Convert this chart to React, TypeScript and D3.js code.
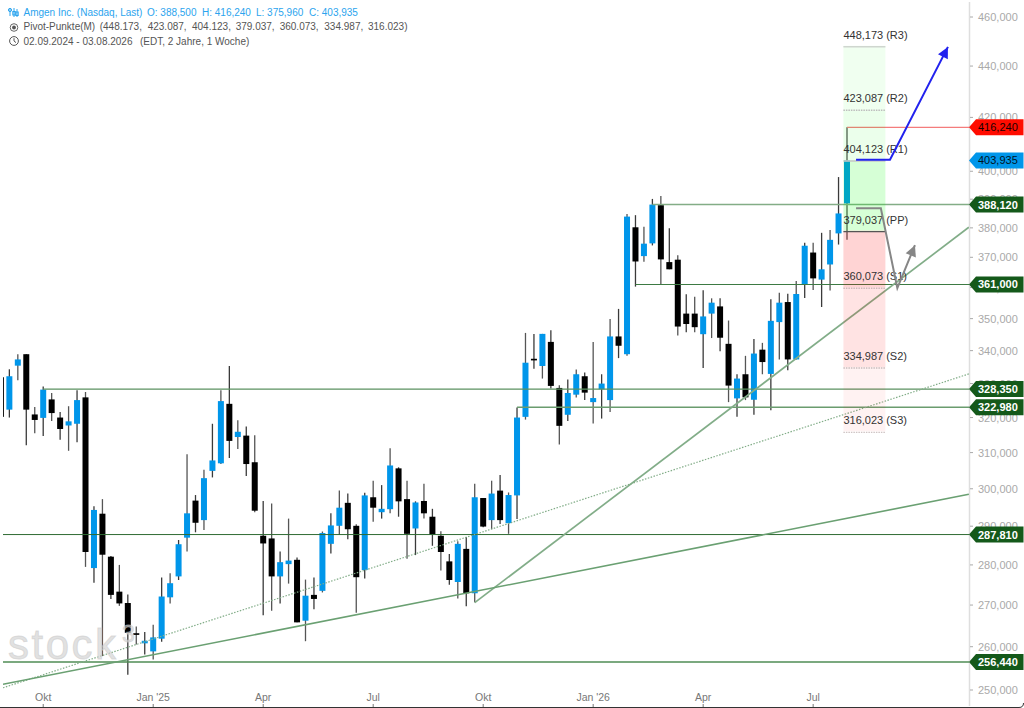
import * as d3 from "d3";

// weekly candles, week 0 = 02.09.2024, week 100 = 03.08.2026
const OPENS = [
  331.9, 322.3, 335.4, 338.9, 320.9, 319.9, 325.3, 320.0, 317.7, 318.2,
  325.9, 279.2, 293.3, 282.1, 273.3, 270.5, 263.2, 260.8, 258.9, 261.9,
  271.9, 277.1, 287.0, 296.8, 291.6, 304.9, 307.0, 324.0, 314.4, 314.8,
  307.3, 287.5, 286.8, 277.1, 280.2, 281.3, 266.2, 272.5, 273.5, 285.4,
  290.1, 296.2, 290.1, 278.7, 297.7, 293.7, 294.5, 305.6, 297.2, 289.4,
  296.7, 292.5, 287.5, 280.9, 275.7, 284.1, 272.9, 297.5, 291.6, 299.5,
  290.8, 298.2, 320.2, 337.5, 335.3, 342.7, 328.7, 320.8, 326.7, 332.2,
  324.5, 328.3, 325.1, 344.4, 338.9, 380.2, 370.4, 374.7, 387.9, 368.4,
  369.2, 351.6, 351.6, 345.1, 351.6, 353.9, 342.1, 325.6, 332.8, 325.2,
  340.3, 332.9, 348.9, 355.3, 337.3, 361.0, 371.6, 362.6, 367.6, 378.1,
  388.5,
];
const HIGHS = [
  331.9, 334.3, 338.9, 338.9, 323.1, 329.1, 327.2, 321.6, 323.3, 328.0,
  327.5, 295.3, 297.2, 282.3, 280.0, 272.6, 264.8, 263.5, 265.2, 276.8,
  277.9, 286.4, 309.5, 298.3, 305.2, 318.2, 328.0, 335.3, 319.2, 317.4,
  314.9, 296.7, 296.0, 283.4, 292.0, 281.9, 276.3, 276.8, 288.6, 293.4,
  299.5, 298.7, 290.5, 298.9, 302.2, 301.0, 311.2, 305.9, 302.2, 296.6,
  301.4, 294.6, 288.7, 282.8, 286.1, 287.2, 301.4, 297.5, 302.2, 303.8,
  299.0, 322.9, 345.5, 345.2, 345.2, 346.3, 329.5, 331.2, 334.2, 333.3,
  342.7, 332.8, 349.9, 353.1, 384.8, 384.4, 380.4, 390.1, 391.1, 379.9,
  370.7, 357.8, 357.0, 359.1, 356.5, 356.5, 349.4, 332.8, 338.4, 343.6,
  342.4, 356.2, 358.3, 358.0, 362.1, 374.9, 374.9, 378.3, 379.3, 397.9,
  416.24,
];
const LOWS = [
  320.2, 320.0, 331.0, 312.1, 315.5, 314.7, 319.0, 313.6, 310.5, 312.9,
  279.5, 275.5, 257.8, 271.5, 269.8, 253.5, 260.5, 258.2, 257.0, 261.2,
  270.4, 276.2, 283.4, 288.4, 289.0, 303.1, 306.8, 308.5, 311.0, 303.5,
  293.7, 267.5, 268.6, 270.4, 275.3, 265.8, 261.3, 269.0, 273.1, 282.9,
  287.7, 286.6, 268.1, 276.6, 291.2, 292.0, 293.4, 292.5, 281.6, 282.5,
  292.0, 284.9, 278.6, 275.0, 271.6, 269.7, 270.7, 289.7, 289.2, 290.6,
  288.0, 291.9, 319.4, 334.5, 331.5, 328.5, 312.3, 319.0, 325.9, 325.1,
  318.3, 319.7, 321.6, 337.7, 338.4, 360.3, 368.5, 374.0, 361.0, 366.0,
  344.7, 345.7, 345.7, 334.7, 343.9, 339.8, 324.5, 320.2, 325.1, 320.8,
  332.8, 322.1, 337.3, 334.0, 337.3, 356.6, 359.2, 353.7, 359.0, 374.3,
  375.96,
];
const CLOSES = [
  320.2, 332.2, 337.3, 322.3, 319.3, 328.2, 321.3, 316.7, 318.9, 325.1,
  283.3, 294.3, 282.6, 272.5, 270.4, 263.3, 262.8, 261.4, 262.2, 272.1,
  275.4, 285.3, 293.4, 290.9, 302.9, 307.8, 324.8, 313.3, 315.9, 306.8,
  294.1, 285.5, 277.1, 280.7, 281.1, 265.8, 272.3, 271.5, 288.2, 290.2,
  294.9, 289.2, 276.9, 298.2, 294.9, 294.6, 306.4, 296.6, 288.0, 296.3,
  293.4, 287.7, 283.3, 276.2, 285.4, 272.9, 297.7, 289.9, 298.7, 291.6,
  298.3, 320.0, 336.3, 337.0, 345.2, 329.3, 317.6, 327.2, 332.8, 327.3,
  325.7, 330.0, 344.4, 341.5, 383.9, 368.6, 374.6, 388.1, 369.3, 366.0,
  347.5, 348.3, 347.3, 350.7, 355.1, 344.0, 329.4, 331.5, 325.9, 339.1,
  336.5, 349.3, 355.1, 337.3, 357.9, 373.9, 363.0, 366.0, 375.9, 385.0,
  403.935,
];

const PRICE_TICKS = [
  250, 260, 270, 280, 290, 300, 310, 320, 330, 340, 350, 360, 370, 380, 390, 400, 420, 440, 460,
];
const TIME_TICK_WEEKS = [5, 18, 31, 44, 57, 70, 83, 96];
const TIME_TICK_LABELS = ["Okt", "Jan '25", "Apr", "Jul", "Okt", "Jan '26", "Apr", "Jul"];

const PIVOT_VALUES = [448.173, 423.087, 404.123, 379.037, 360.073, 334.987, 316.023];
const PIVOT_NAMES = ["R3", "R2", "R1", "PP", "S1", "S2", "S3"];

const LEVEL_VALUES = [388.12, 361.0, 328.35, 322.98, 287.81, 256.44];
const LEVEL_START_WEEKS = [77, 75, 5, 61, -1, -1];

const TREND_START = [
  [56, 270.6],
  [0.25, 250.5],
  [0.25, 251.3],
];
const TREND_END = [
  [114.4, 380.2],
  [114.4, 332.9],
  [114.4, 298.5],
];

const BLUE_ARROW = [
  [101.07, 404.2],
  [105.08, 404.2],
  [111.93, 447.7],
];
const GREY_ARROW = [
  [101.07, 386.8],
  [104.0, 386.8],
  [105.95, 359.8],
  [108.03, 374.1],
];

const HEADER_QUOTE = ["O: 388,500", "H: 416,240", "L: 375,960", "C: 403,935"];
const HEADER_QUOTE_X = [147, 202, 256, 309];
const HEADER_PIVOTS = ["(448.173,", "423.087,", "404.123,", "379.037,", "360.073,", "334.987,", "316.023)"];
const HEADER_PIVOTS_X = [99.7, 147.7, 192, 235.7, 279.7, 324.3, 368];

const fmt = d3.formatLocale({ decimal: ",", thousands: ".", grouping: [3], currency: ["", ""] }).format(".3f");
const FONT = "'Liberation Sans', Arial, sans-serif";

const x = d3.scaleLinear().domain([0, 100]).range([0.9, 847]);
const y = d3.scaleLog().domain([250, 460]).range([690, 17]);

const zoneFills = [
  "rgba(0,255,0,0.06)",
  "rgba(0,255,0,0.08)",
  "rgba(0,255,0,0.16)",
  "rgba(255,0,0,0.17)",
  "rgba(255,0,0,0.11)",
  "rgba(255,0,0,0.05)",
];
const pivotStrokes = ["#cfd6cf", "#bdbdbd", "#c6c6c6", "#555555", "#cdb8b8", "#c9bcbc", "#cfc4c4"];
const pivotDash = [undefined, "1.5 1", undefined, undefined, "1.5 1", "1.5 1", "1.5 1"];
const levelStrokes = ["#83ad86", "#3d7a43", "#5b9160", "#6a9c6e", "#2f6b33", "#4f8d55"];
const levelWidths = [1.6, 1.2, 1.4, 1.5, 1, 1.4];
const trendStrokes = ["#82ad88", "#82ad88", "#6aa072"];
const trendDash = [undefined, "1.5 1.5", undefined];
const trendWidths = [1.7, 1.2, 1.6];

function linePath(points: number[][]) {
  return d3.line()(points.map(([w, p]) => [x(w), y(p)] as [number, number])) ?? "";
}

function arrowHead(points: number[][], length: number, half: number) {
  const [w0, p0] = points[points.length - 2];
  const [w1, p1] = points[points.length - 1];
  const x0 = x(w0);
  const y0 = y(p0);
  const x1 = x(w1);
  const y1 = y(p1);
  const d = Math.hypot(x1 - x0, y1 - y0);
  const ux = (x1 - x0) / d;
  const uy = (y1 - y0) / d;
  const bx = x1 - ux * length;
  const by = y1 - uy * length;
  return `M${x1},${y1}L${bx - uy * half},${by + ux * half}L${bx + uy * half},${by - ux * half}Z`;
}

function PriceTag({ value, fill, color, bold }: { value: number; fill: string; color: string; bold?: boolean }) {
  const cy = y(value);
  const d = `M969,${cy}L976,${cy - 8}H1023.5V${cy + 8}H976Z`;
  return (
    <g>
      <path d={d} fill={fill} />
      <text
        x={978}
        y={cy + 4}
        fontSize={11}
        fontWeight={bold ? "bold" : "normal"}
        fill={color}
      >
        {fmt(value)}
      </text>
    </g>
  );
}

export default function App() {
  const zoneX = 843.4;
  const zoneW = 42;

  return (
    <svg
      width={1024}
      height={708}
      viewBox="0 0 1024 708"
      style={{ position: "absolute", left: 0, top: 0, display: "block", background: "#fff" }}
      fontFamily={FONT}
    >
      <defs>
        <clipPath id="plot">
          <rect x={3} y={0} width={966} height={704} />
        </clipPath>
      </defs>

      {/* price axis */}
      <line x1={969.5} x2={969.5} y1={2} y2={706} stroke="#dedede" strokeWidth={1.5} />
      {PRICE_TICKS.map((t) => (
        <g key={t}>
          <line x1={970} x2={973} y1={y(t)} y2={y(t)} stroke="#aaa" />
          <text x={978} y={y(t) + 4} fontSize={11} fill="#a9a9a9">
            {fmt(t)}
          </text>
        </g>
      ))}

      {/* time axis */}
      {TIME_TICK_WEEKS.map((w, i) => (
        <g key={w}>
          <line x1={x(w)} x2={x(w)} y1={704} y2={707} stroke="#777" />
          <text x={x(w)} y={700.5} fontSize={10.5} fill="#777" textAnchor="middle">
            {TIME_TICK_LABELS[i]}
          </text>
        </g>
      ))}

      <g clipPath="url(#plot)">
        {/* candles */}
        {OPENS.map((open, i) => {
          const close = CLOSES[i];
          const top = y(Math.max(open, close));
          const bottom = y(Math.min(open, close));
          return (
            <g key={i}>
              <line
                x1={x(i)}
                x2={x(i)}
                y1={y(HIGHS[i])}
                y2={y(LOWS[i])}
                stroke={i % 2 ? "#3a3a3a" : "#555"}
                strokeWidth={1.3}
              />
              <rect
                x={x(i) - 3}
                y={top}
                width={6}
                height={Math.max(bottom - top, 1.5)}
                fill={close >= open ? "#0096ea" : "#000"}
              />
            </g>
          );
        })}

        {/* horizontal levels */}
        {LEVEL_VALUES.map((v, i) => (
          <line
            key={v}
            x1={x(LEVEL_START_WEEKS[i])}
            x2={969}
            y1={y(v)}
            y2={y(v)}
            stroke={levelStrokes[i]}
            strokeWidth={levelWidths[i]}
          />
        ))}
        <line
          x1={x(100)}
          x2={969}
          y1={y(HIGHS[100])}
          y2={y(HIGHS[100])}
          stroke="#f47c7c"
          strokeWidth={1.3}
        />

        {/* trend lines */}
        {TREND_START.map((s, i) => (
          <path
            key={i}
            d={linePath([s, TREND_END[i]])}
            fill="none"
            stroke={trendStrokes[i]}
            strokeWidth={trendWidths[i]}
            strokeDasharray={trendDash[i]}
          />
        ))}
      </g>

      {/* pivot zones */}
      {zoneFills.map((fill, i) => (
        <rect
          key={fill}
          x={zoneX}
          y={y(PIVOT_VALUES[i])}
          width={zoneW}
          height={y(PIVOT_VALUES[i + 1]) - y(PIVOT_VALUES[i])}
          fill={fill}
        />
      ))}
      {PIVOT_VALUES.map((v, i) => (
        <g key={v}>
          <line
            x1={zoneX}
            x2={zoneX + zoneW}
            y1={y(v) + 1}
            y2={y(v) + 1}
            stroke={pivotStrokes[i]}
            strokeWidth={1.4}
            strokeDasharray={pivotDash[i]}
          />
          <text x={zoneX} y={y(v) - 7} fontSize={11} fill="#333">
            {`${fmt(v)} (${PIVOT_NAMES[i]})`}
          </text>
        </g>
      ))}

      {/* hand drawn arrows */}
      <path d={linePath(BLUE_ARROW)} fill="none" stroke="#2222ee" strokeWidth={2} />
      <path d={arrowHead(BLUE_ARROW, 11, 5.5)} fill="#2222ee" />
      <path d={linePath(GREY_ARROW)} fill="none" stroke="#868686" strokeWidth={2} />
      <path d={arrowHead(GREY_ARROW, 11, 5.5)} fill="#868686" />

      {/* price tags */}
      <PriceTag value={HIGHS[100]} fill="#ff0c00" color="#1a0000" />
      <PriceTag value={CLOSES[100]} fill="#0096ea" color="#00141f" />
      {LEVEL_VALUES.map((v) => (
        <PriceTag key={v} value={v} fill="#14591a" color="#fff" bold />
      ))}

      {/* watermark */}
      <g fill="rgba(205,205,205,0.62)" stroke="rgba(205,205,205,0.62)" strokeWidth={0.9}>
        <text x={8} y={659} fontSize={42} letterSpacing={2.5}>
          stock
        </text>
        <text x={122} y={642} fontSize={23}>
          3
        </text>
      </g>

      {/* header */}
      <g fontSize={10}>
        <text x={23.5} y={15.5} fill="#2ba4ee">
          Amgen Inc. (Nasdaq, Last)
        </text>
        {HEADER_QUOTE.map((s, i) => (
          <text key={s} x={HEADER_QUOTE_X[i]} y={15.5} fill="#2ba4ee">
            {s}
          </text>
        ))}
        <text x={23.5} y={30} fill="#555">
          Pivot-Punkte(M)
        </text>
        {HEADER_PIVOTS.map((s, i) => (
          <text key={s} x={HEADER_PIVOTS_X[i]} y={30} fill="#555">
            {s}
          </text>
        ))}
        <text x={23.5} y={44.5} fill="#555">
          02.09.2024 - 03.08.2026
        </text>
        <text x={140} y={44.5} fill="#555">
          (EDT, 2 Jahre, 1 Woche)
        </text>
      </g>
      <g stroke="#2ba4ee" fill="none" strokeWidth={1}>
        <path d="M10,8V16M14,8V17M17,9V17" />
        <circle cx={10} cy={10} r={1.6} />
        <rect x={12.8} y={11.5} width={2.4} height={3.5} />
        <rect x={15.8} y={12} width={2.4} height={3.5} />
      </g>
      <circle cx={14} cy={27.5} r={3.8} fill="none" stroke="#666" strokeWidth={1} />
      <circle cx={14} cy={27.5} r={1.9} fill="#555" />
      <circle cx={14} cy={41} r={4.4} fill="none" stroke="#555" strokeWidth={1} />
      <path d="M14,38.2V41L16,42.6" fill="none" stroke="#555" strokeWidth={1} />

      {/* frame corner */}
      <path d="M0,707.5H1019Q1023.5,707.5 1023.5,703" fill="none" stroke="#333" strokeWidth={1} />
    </svg>
  );
}
